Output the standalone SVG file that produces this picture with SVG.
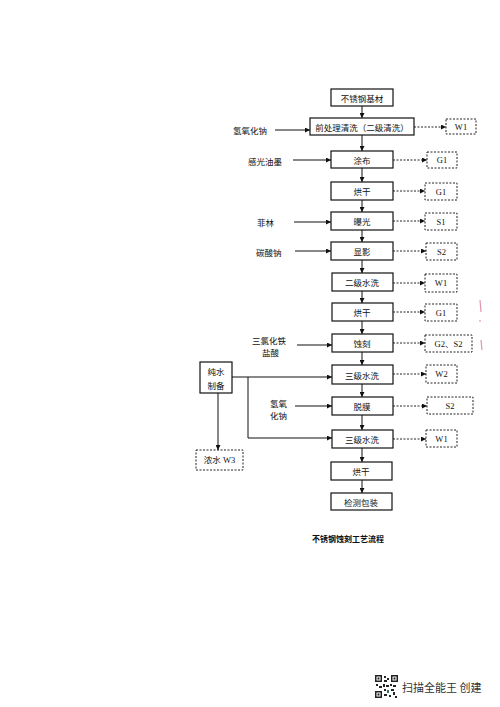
<svg xmlns="http://www.w3.org/2000/svg" width="500" height="707" viewBox="0 0 500 707">
<defs>
<style>
.box{fill:#fff;stroke:#111;stroke-width:1.2}
.dbox{fill:#fff;stroke:#222;stroke-width:1;stroke-dasharray:2,1.5}
.ln{fill:none;stroke:#111;stroke-width:1;marker-end:url(#ah)}
.dl{fill:none;stroke:#222;stroke-width:1;stroke-dasharray:2,1.5;marker-end:url(#ah)}
.pl{fill:none;stroke:#111;stroke-width:1}
text{font-family:"Noto Sans CJK SC","Liberation Sans",sans-serif;font-size:8.5px;fill:#111;text-anchor:middle;dominant-baseline:central}
.lbl{text-anchor:start}
.s{font-family:"Liberation Serif","Noto Sans CJK SC",serif;font-size:8.5px}
</style>
<marker id="ah" viewBox="0 0 6 6" refX="6" refY="3" markerWidth="5" markerHeight="5" orient="auto" markerUnits="userSpaceOnUse">
<path d="M0,0 L6,3 L0,6 z" fill="#111"/>
</marker>
</defs>
<rect width="500" height="707" fill="#fff"/>

<g id="n1"><rect class="box" x="331" y="89" width="62" height="17"/><text x="362" y="97.5">不锈钢基材</text></g>
<g id="n2"><rect class="box" x="310" y="118" width="104" height="17"/><text x="362" y="126.5">前处理清洗（二级清洗）</text></g>
<g id="n3"><rect class="box" x="331" y="151" width="62" height="17"/><text x="362" y="159.5">涂布</text></g>
<g id="n4"><rect class="box" x="331" y="182" width="62" height="18"/><text x="362" y="191">烘干</text></g>
<g id="n5"><rect class="box" x="331" y="212" width="62" height="18"/><text x="362" y="221">曝光</text></g>
<g id="n6"><rect class="box" x="331" y="242" width="62" height="18"/><text x="362" y="251">显影</text></g>
<g id="n7"><rect class="box" x="332" y="273" width="61" height="18"/><text x="362" y="282">二级水洗</text></g>
<g id="n8"><rect class="box" x="332" y="303" width="61" height="18"/><text x="362" y="312">烘干</text></g>
<g id="n9"><rect class="box" x="332" y="334" width="61" height="18"/><text x="362" y="343">蚀刻</text></g>
<g id="n10"><rect class="box" x="332" y="365" width="61" height="19"/><text x="362" y="374.5">三级水洗</text></g>
<g id="n11"><rect class="box" x="332" y="397" width="61" height="18"/><text x="362" y="406">脱膜</text></g>
<g id="n12"><rect class="box" x="332" y="430" width="61" height="18"/><text x="362" y="439">三级水洗</text></g>
<g id="n13"><rect class="box" x="331" y="462" width="61" height="18"/><text x="361" y="471">烘干</text></g>
<g id="n14"><rect class="box" x="331" y="493" width="61" height="17"/><text x="361" y="501.5">检测包装</text></g>

<g id="pure"><rect class="box" x="200" y="362" width="32" height="31"/><text x="216" y="371">纯水</text><text x="216" y="385">制备</text></g>
<g id="w3"><rect class="dbox" x="196" y="450" width="47" height="20"/><text x="219.5" y="460" class="s">浓水 W3</text></g>

<g id="o1"><rect class="dbox" x="446" y="119" width="30" height="15"/><text x="461" y="126.5" class="s">W1</text></g>
<g id="o2"><rect class="dbox" x="427" y="152" width="30" height="16"/><text x="442" y="160" class="s">G1</text></g>
<g id="o3"><rect class="dbox" x="425" y="183" width="32" height="17"/><text x="441" y="191.5" class="s">G1</text></g>
<g id="o4"><rect class="dbox" x="425" y="213" width="32" height="17"/><text x="441" y="221.5" class="s">S1</text></g>
<g id="o5"><rect class="dbox" x="426" y="243" width="31" height="17"/><text x="441.5" y="251.5" class="s">S2</text></g>
<g id="o6"><rect class="dbox" x="425" y="274" width="32" height="18"/><text x="441" y="283" class="s">W1</text></g>
<g id="o7"><rect class="dbox" x="425" y="304" width="32" height="17"/><text x="441" y="312.5" class="s">G1</text></g>
<g id="o8"><rect class="dbox" x="425" y="335" width="47" height="17"/><text x="448.5" y="343.5" class="s">G2、S2</text></g>
<g id="o9"><rect class="dbox" x="426" y="365" width="31" height="18"/><text x="441.5" y="374" class="s">W2</text></g>
<g id="o10"><rect class="dbox" x="427" y="397" width="46" height="17"/><text x="450" y="405.5" class="s">S2</text></g>
<g id="o11"><rect class="dbox" x="426" y="430" width="31" height="17"/><text x="441.5" y="438.5" class="s">W1</text></g>

<g id="inputs">
<text x="233" y="130" class="lbl">氢氧化钠</text>
<text x="248" y="161" class="lbl">感光油墨</text>
<text x="257" y="222" class="lbl">菲林</text>
<text x="256" y="252" class="lbl">碳酸钠</text>
<text x="252" y="340" class="lbl">三氯化铁</text>
<text x="262" y="352" class="lbl">盐酸</text>
<text x="270" y="403" class="lbl">氢氧</text>
<text x="270" y="415" class="lbl">化钠</text>
</g>

<g id="connectors">
<line class="ln" x1="362" y1="106" x2="362" y2="118"/>
<line class="ln" x1="362" y1="135" x2="362" y2="151"/>
<line class="ln" x1="362" y1="168" x2="362" y2="182"/>
<line class="ln" x1="362" y1="200" x2="362" y2="212"/>
<line class="ln" x1="362" y1="230" x2="362" y2="242"/>
<line class="ln" x1="362" y1="260" x2="362" y2="273"/>
<line class="ln" x1="362" y1="291" x2="362" y2="303"/>
<line class="ln" x1="362" y1="321" x2="362" y2="334"/>
<line class="ln" x1="362" y1="352" x2="362" y2="365"/>
<line class="ln" x1="362" y1="384" x2="362" y2="397"/>
<line class="ln" x1="362" y1="415" x2="362" y2="430"/>
<line class="ln" x1="362" y1="448" x2="362" y2="462"/>
<line class="ln" x1="362" y1="480" x2="362" y2="493"/>

<line class="ln" x1="275" y1="130" x2="310" y2="130"/>
<line class="ln" x1="293" y1="160" x2="331" y2="160"/>
<line class="ln" x1="294" y1="222" x2="331" y2="222"/>
<line class="ln" x1="295" y1="251" x2="331" y2="251"/>
<line class="ln" x1="297" y1="345" x2="332" y2="345"/>
<line class="ln" x1="295" y1="406" x2="332" y2="406"/>

<line class="ln" x1="232" y1="377" x2="332" y2="377"/>
<polyline class="ln" points="248,377 248,438 332,438"/>
<line class="ln" x1="218" y1="393" x2="218" y2="450"/>

<line class="dl" x1="414" y1="127" x2="446" y2="127"/>
<line class="dl" x1="393" y1="160" x2="427" y2="160"/>
<line class="dl" x1="393" y1="191" x2="425" y2="191"/>
<line class="dl" x1="393" y1="221" x2="425" y2="221"/>
<line class="dl" x1="393" y1="251" x2="426" y2="251"/>
<line class="dl" x1="393" y1="283" x2="425" y2="283"/>
<line class="dl" x1="393" y1="312" x2="425" y2="312"/>
<line class="dl" x1="393" y1="343" x2="425" y2="343"/>
<line class="dl" x1="393" y1="374" x2="426" y2="374"/>
<line class="dl" x1="393" y1="406" x2="427" y2="406"/>
<line class="dl" x1="393" y1="439" x2="426" y2="439"/>
</g>

<text x="348" y="538" style="font-family:'Noto Sans CJK SC',serif;font-size:8px;font-weight:bold">不锈钢蚀刻工艺流程</text>

<g id="marks" stroke="#d46a8c" stroke-width="1.2" fill="none" opacity="0.7">
<line x1="480" y1="300" x2="481" y2="312"/>
<line x1="481" y1="340" x2="482" y2="350"/>
<line x1="480" y1="320" x2="480" y2="322"/>
</g>

<g id="qr" fill="#222">
<rect x="375" y="675" width="23" height="23" fill="#fff"/>
<rect x="375" y="675" width="7" height="7"/><rect x="376.5" y="676.5" width="4" height="4" fill="#fff"/><rect x="377.5" y="677.5" width="2" height="2"/>
<rect x="391" y="675" width="7" height="7"/><rect x="392.5" y="676.5" width="4" height="4" fill="#fff"/><rect x="393.5" y="677.5" width="2" height="2"/>
<rect x="375" y="691" width="7" height="7"/><rect x="376.5" y="692.5" width="4" height="4" fill="#fff"/><rect x="377.5" y="693.5" width="2" height="2"/>
<rect x="384" y="676" width="2" height="2"/><rect x="387" y="678" width="2" height="2"/><rect x="384" y="680" width="3" height="2"/>
<rect x="376" y="684" width="2" height="2"/><rect x="379" y="686" width="3" height="2"/><rect x="383" y="684" width="2" height="3"/>
<rect x="386" y="685" width="3" height="2"/><rect x="390" y="684" width="2" height="2"/><rect x="393" y="685" width="3" height="2"/>
<rect x="384" y="689" width="2" height="2"/><rect x="387" y="690" width="2" height="3" fill="#2a7a5a"/><rect x="391" y="689" width="3" height="2"/>
<rect x="384" y="694" width="3" height="2"/><rect x="389" y="695" width="2" height="2"/><rect x="393" y="692" width="2" height="3"/><rect x="395" y="696" width="2" height="2"/>
</g>
<text x="402" y="686.5" class="lbl" style="font-size:11px;fill:#333">扫描全能王 创建</text>
</svg>
